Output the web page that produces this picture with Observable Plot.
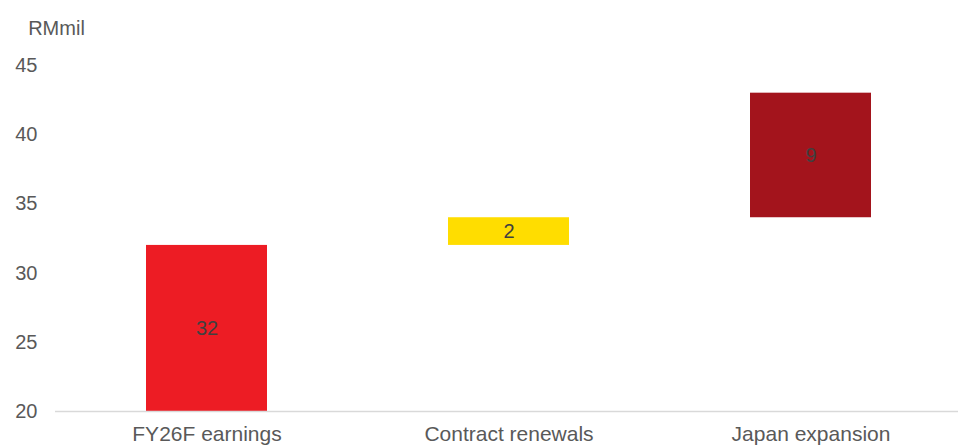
<!DOCTYPE html>
<html>
<head>
<meta charset="utf-8">
<script src="https://cdn.jsdelivr.net/npm/d3@7"></script>
<script src="https://cdn.jsdelivr.net/npm/@observablehq/plot@0.6"></script>
<style>
  html, body { margin: 0; padding: 0; background: #fff; }
  #chart svg { display: block; }
</style>
</head>
<body>
<div id="chart"></div>
<script>
const categories = ["FY26F earnings", "Contract renewals", "Japan expansion"];
const values = [32, 2, 9];
const colors = ["#ED1C24", "#FFDD00", "#A3141C"];
const yTicks = [20, 25, 30, 35, 40, 45];
const unitLabel = "RMmil";

let run = 0;
const data = categories.map((c, i) => {
  const start = run;
  run += values[i];
  return { cat: c, y1: start, y2: run, value: values[i], color: colors[i] };
});

const chart = Plot.plot({
  width: 958,
  height: 447,
  marginLeft: 55,
  marginRight: -4,
  marginTop: 65,
  marginBottom: 36,
  style: { fontFamily: "'Liberation Sans', Arial, sans-serif", fontSize: "20px", background: "#fff", overflow: "hidden" },
  x: { domain: categories, paddingInner: 0.6, paddingOuter: 0.3, label: null, tickSize: 0, tickPadding: 15 },
  y: { domain: [20, 45], clamp: true, ticks: yTicks, label: null, tickSize: 0, tickPadding: 18 },
  marks: [
    Plot.barY(data, { x: "cat", y1: "y1", y2: "y2", fill: "color" }),
    Plot.ruleY([20], { stroke: "#D9D9D9", strokeWidth: 1.5 }),
    Plot.text(data, {
      x: "cat",
      y: d => (Math.max(d.y1, 20) + d.y2) / 2,
      text: d => String(d.value),
      fill: "#404040",
      fontSize: 20
    }),
    Plot.text([unitLabel], {
      frameAnchor: "top-left",
      text: d => d,
      dx: 1,
      dy: -45,
      textAnchor: "middle",
      fill: "#595959",
      fontSize: 20
    })
  ]
});
chart.querySelectorAll("[aria-label='x-axis tick label'], [aria-label='y-axis tick label']").forEach(g => g.setAttribute("fill", "#595959"));
chart.querySelectorAll("[aria-label='x-axis tick label']").forEach(g => g.setAttribute("font-size", "21"));
document.getElementById("chart").appendChild(chart);
</script>
</body>
</html>
